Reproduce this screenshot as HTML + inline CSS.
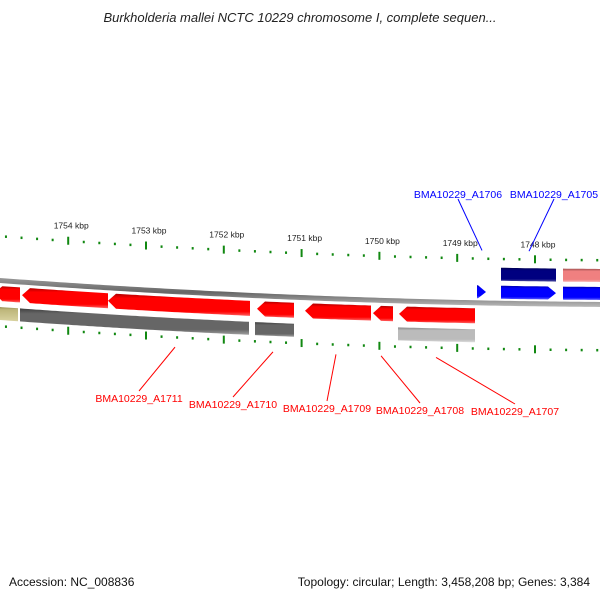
<!DOCTYPE html>
<html><head><meta charset="utf-8"><style>
body{margin:0;background:#fff;}
svg{display:block;font-family:"Liberation Sans","DejaVu Sans",sans-serif;}
</style></head><body>
<svg id="map" width="600" height="600" viewBox="0 0 600 600">
<defs>
<linearGradient id="gRed" x1="0" y1="0" x2="0" y2="1"><stop offset="0" stop-color="#b00000"/><stop offset="0.2" stop-color="#ff0000"/><stop offset="0.8" stop-color="#ff0000"/><stop offset="1" stop-color="#ff6060"/></linearGradient>
<linearGradient id="gBlue" x1="0" y1="0" x2="0" y2="1"><stop offset="0" stop-color="#0000b0"/><stop offset="0.2" stop-color="#0000ff"/><stop offset="0.8" stop-color="#0000ff"/><stop offset="1" stop-color="#6060ff"/></linearGradient>
<linearGradient id="gNavy" x1="0" y1="0" x2="0" y2="1"><stop offset="0" stop-color="#000050"/><stop offset="0.2" stop-color="#000080"/><stop offset="0.8" stop-color="#000080"/><stop offset="1" stop-color="#5050a0"/></linearGradient>
<linearGradient id="gPink" x1="0" y1="0" x2="0" y2="1"><stop offset="0" stop-color="#a05050"/><stop offset="0.2" stop-color="#f08080"/><stop offset="0.8" stop-color="#f08080"/><stop offset="1" stop-color="#f8b0b0"/></linearGradient>
<linearGradient id="gDark" x1="0" y1="0" x2="0" y2="1"><stop offset="0" stop-color="#404040"/><stop offset="0.2" stop-color="#666"/><stop offset="0.8" stop-color="#666"/><stop offset="1" stop-color="#a0a0a0"/></linearGradient>
<linearGradient id="gLight" x1="0" y1="0" x2="0" y2="1"><stop offset="0" stop-color="#888"/><stop offset="0.2" stop-color="#bbb"/><stop offset="0.8" stop-color="#bbb"/><stop offset="1" stop-color="#ddd"/></linearGradient>
<linearGradient id="gOlive" x1="0" y1="0" x2="0" y2="1"><stop offset="0" stop-color="#908850"/><stop offset="0.2" stop-color="#bdb67a"/><stop offset="1" stop-color="#d8d2a0"/></linearGradient>
<linearGradient id="gBack" x1="0" y1="0" x2="0" y2="1"><stop offset="0" stop-color="#999"/><stop offset="0.5" stop-color="#666"/><stop offset="1" stop-color="#bbb"/></linearGradient>
</defs>
<text x="300" y="22" text-anchor="middle" font-size="13" font-style="italic" fill="#222">Burkholderia mallei NCTC 10229 chromosome I, complete sequen...</text>
<text x="9" y="586" font-size="12" fill="#111">Accession: NC_008836</text>
<text x="590" y="586" text-anchor="end" font-size="12" fill="#111">Topology: circular; Length: 3,458,208 bp; Genes: 3,384</text>
<g id="layer"></g>
</svg>
<script>
const tickKbp=[1754,1753,1752,1751,1750,1749,1748];
const minorPerMajor=5;
// genes: start/end in kbp, strand, strip, color key
const geneStart=[1754.95,1754.594,1753.489,1751.573,1750.956,1750.082,1749.748,1748.746,1748.437,1747.64,1748.437,1747.64,1754.95,1754.62,1751.599,1749.761];
const geneEnd  =[1754.62,1753.489,1751.663,1751.098,1750.108,1749.825,1748.771,1748.63,1747.73,1746.9,1747.73,1746.9,1754.645,1751.676,1751.098,1748.771];
const geneStrand=[-1,-1,-1,-1,-1,-1,-1,1,1,1,0,0,0,0,0,0];
const geneStrip=["r1","r1","r1","r1","r1","r1","r1","b1","b1","b1","b2","b2","r2","r2","r2","r2"];
const geneFill=["gRed","gRed","gRed","gRed","gRed","gRed","gRed","gBlue","gBlue","gBlue","gNavy","gPink","gOlive","gDark","gDark","gLight"];
const labelNames=["BMA10229_A1711","BMA10229_A1710","BMA10229_A1709","BMA10229_A1708","BMA10229_A1707","BMA10229_A1706","BMA10229_A1705"];
const labelKbp=[1752.627,1751.368,1750.558,1749.979,1749.272,1748.681,1748.077];
const labelSide=[1,1,1,1,1,-1,-1];

const PX=77.8;
function xOf(k){return 535+(1748-k)*PX;}
function base(x){return 280+0.0733*x-5.56e-5*x*x;}
const strips={r1:[6,21],r2:[27,40],b1:[-17,-4],b2:[-35,-22]};
const NS="http://www.w3.org/2000/svg";
const layer=document.getElementById('layer');
function mk(t,a){const e=document.createElementNS(NS,t);for(const k in a)e.setAttribute(k,a[k]);layer.appendChild(e);return e;}

let bp=[];for(let x=-5;x<=605;x+=5)bp.push(x+','+(base(x)-2));
for(let x=605;x>=-5;x-=5)bp.push(x+','+(base(x)+3));
const bb=mk('polygon',{points:bp.join(' '),fill:'url(#gBack)'});



const tMin=1746,tMax=1755.2;
for(let i=Math.round(tMax*minorPerMajor);i>=Math.round(tMin*minorPerMajor);i--){
  const k=i/minorPerMajor,x=xOf(k);if(x<0||x>600)continue;
  const major=i%minorPerMajor===0;
  [-44,46].forEach(off=>{
    const y=base(x)+off;
    const t=mk('rect',{x:x-1,y:major?y-4:y-1,width:2,height:major?8:2.5,fill:'#118811'});
    
    
  });
}
tickKbp.forEach(k=>{
  const x=xOf(k);
  const t=mk('text',{x:x+3,y:base(x)-56,'text-anchor':'middle','font-size':'8.5',fill:'#222'});
  t.textContent=k+' kbp';
  
  
});

geneStart.forEach((s,i)=>{
  let x1=xOf(s),x2=xOf(geneEnd[i]);if(x1>x2)[x1,x2]=[x2,x1];
  const [o1,o2]=strips[geneStrip[i]],st=geneStrand[i],hl=8;
  const top=[],bot=[];
  let a=x1,b=x2;
  if(st<0)a=Math.min(x1+hl,x2);
  if(st>0)b=Math.max(x2-hl,x1);
  for(let x=a;x<=b;x+=4){top.push([x,base(x)+o1]);}
  top.push([b,base(b)+o1]);
  for(let x=b;x>=a;x-=4){bot.push([x,base(x)+o2]);}
  bot.push([a,base(a)+o2]);
  let pts=[];
  if(st<0)pts.push([x1,base(x1)+(o1+o2)/2]);
  pts=pts.concat(top);
  if(st>0)pts.push([x2,base(x2)+(o1+o2)/2]);
  pts=pts.concat(bot);
  const g=mk('polygon',{points:pts.map(p=>p[0].toFixed(1)+','+p[1].toFixed(1)).join(' '),fill:'url(#'+geneFill[i]+')'});
  
  
});

const labelY=[398,404,408,410,411];
labelNames.forEach((n,i)=>{
  const x=xOf(labelKbp[i]);
  const col=labelSide[i]>0?'#ff0000':'#0000ff';
  let lx,ly,ty,ax,ay;
  if(labelSide[i]>0){
    const pos=[139,233,327,420,515][i];
    ty=labelY[i];lx=pos;ly=ty-7;ax=x;ay=base(x)+56;
    const t=mk('text',{x:pos,y:ty+4,'text-anchor':'middle','font-size':'10.5',fill:col});t.textContent=n;
    
    
  }else{
    const pos=i===5?458:554;
    ty=194;lx=pos;ly=ty+5;ax=x;ay=base(x)-52;
    const t=mk('text',{x:pos,y:ty+4,'text-anchor':'middle','font-size':'10.5',fill:col});t.textContent=n;
    
    
  }
  const l=mk('line',{x1:lx,y1:ly,x2:ax,y2:ay,stroke:col,'stroke-width':1});
  
  
});
</script>
</body></html>
